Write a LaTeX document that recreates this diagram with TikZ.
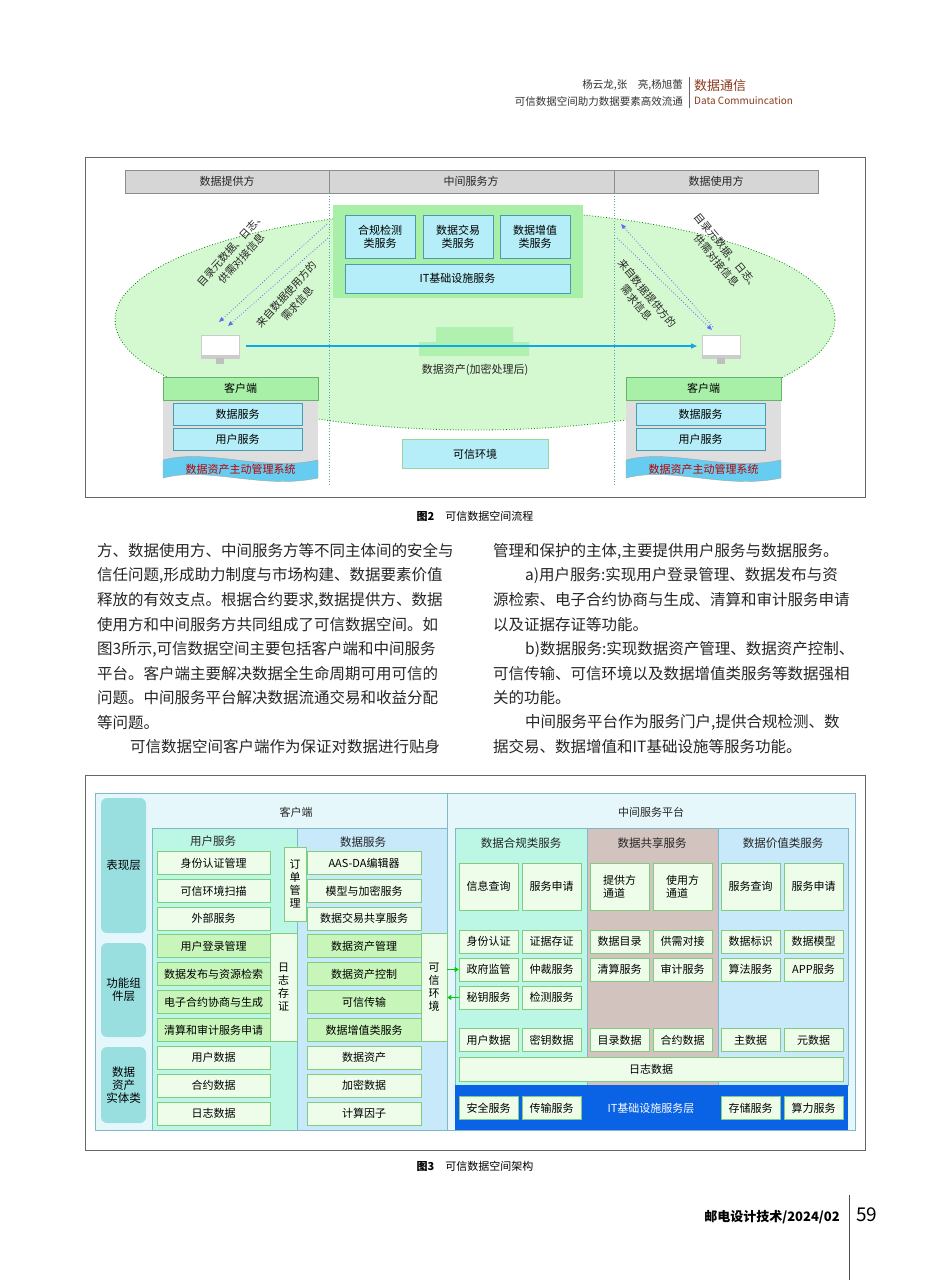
\documentclass[tikz,border=0pt]{standalone}
\usepackage{fontspec}
\setmainfont{Noto Sans CJK SC}
\usetikzlibrary{arrows.meta}
\definecolor{lg}{HTML}{D4F8CF}
\definecolor{mg}{HTML}{A8F0A8}
\definecolor{cy}{HTML}{B5EEF8}
\definecolor{cyb}{HTML}{4A9AB0}
\definecolor{tu}{HTML}{BBF7E4}
\definecolor{sk}{HTML}{C7E9FA}
\definecolor{br}{HTML}{D2C3BF}
\definecolor{pale}{HTML}{E6F7FC}
\definecolor{side}{HTML}{9ADFE0}
\definecolor{bx}{HTML}{EEFCEA}
\definecolor{bxg}{HTML}{C8F5B9}
\definecolor{blu}{HTML}{0A62E4}
\definecolor{brn}{HTML}{8A3A1C}
\definecolor{ban}{HTML}{66CCF0}
\begin{document}
\begin{tikzpicture}[x=1pt,y=-1pt,
  txt/.style={inner sep=0,font=\fontsize{11}{13}\selectfont,text=black!85},
  rtxt/.style={inner sep=0,align=center,font=\fontsize{10.5}{14}\selectfont,text=black!85},
  body/.style={anchor=west,inner sep=0,font=\fontsize{15.5}{17}\selectfont,text=black!85},
  cbox/.style={draw=cyb,fill=cy,line width=0.6pt,inner sep=0,align=center,font=\fontsize{11}{13}\selectfont},
  gbox/.style={draw=green!60!black!50,fill=bx,line width=0.6pt,inner sep=0,align=center,font=\fontsize{11}{13}\selectfont},
  dgbox/.style={gbox,fill=bxg},
  sidebox/.style={fill=side,rounded corners=6pt,inner sep=0,align=center,font=\fontsize{11.5}{13}\selectfont}]
\useasboundingbox (0,0) rectangle (950,1280);
\fill[white] (0,0) rectangle (950,1280);
% header
\node[anchor=east,inner sep=0,font=\fontsize{10.5}{12}\selectfont,text=black!80] (h1) at (683,85) {杨云龙,张\quad 亮,杨旭蕾};
\node[anchor=east,inner sep=0,font=\fontsize{10.5}{12}\selectfont,text=black!80] (h2) at (683,101) {可信数据空间助力数据要素高效流通};
\draw[black!60,line width=0.5pt] (689,77) -- (689,108);
\node[anchor=west,inner sep=0,font=\fontsize{13}{14}\selectfont,text=brn] (h3) at (694,86) {数据通信};
\node[anchor=west,inner sep=0,font=\fontsize{10}{12}\itshape\selectfont,text=brn] (h4) at (694,101) {Data Commuincation};
% ===== Figure 2 =====
\draw[black!60,line width=0.7pt] (85,157) rectangle (865,497);
\fill[lg,draw=green!50!black,dotted,line width=0.8pt] (475,320) ellipse [x radius=360,y radius=110];
\begin{scope}[fill=black!16,draw=black!45,line width=0.6pt]
\filldraw (125,170) rectangle (329,193); \filldraw (329,170) rectangle (614,193); \filldraw (614,170) rectangle (818,193);
\end{scope}
\node[txt] (p1) at (227,181.5) {数据提供方};
\node[txt] (p2) at (471,181.5) {中间服务方};
\node[txt] (p3) at (716,181.5) {数据使用方};
\draw[teal!70,dotted,line width=0.8pt] (329,193) -- (329,485) (614,193) -- (614,485);
\fill[mg] (333,205) rectangle (583,298);
\node[cbox,minimum width=70,minimum height=43] (s1) at (380,236.5) {合规检测\\类服务};
\node[cbox,minimum width=70,minimum height=43] (s2) at (458,236.5) {数据交易\\类服务};
\node[cbox,minimum width=70,minimum height=43] (s3) at (535,236.5) {数据增值\\类服务};
\node[cbox,minimum width=225,minimum height=29] (s4) at (457.5,278.5) {IT基础设施服务};
% pyramid
\fill[mg!80!lg] (436,327) rectangle (513,342) (419,342) rectangle (529,356);
% monitors
\foreach \n/\x in {monL/220,monR/721}{
  \draw[black!20,fill=white] (\x-19,335) rectangle (\x+19,358);
  \fill[black!20] (\x-19,355) rectangle (\x+19,358);
  \fill[black!25] (\x-4,358) rectangle (\x+4,364);
  \coordinate (\n) at (\x,346);
}
\draw[-{Triangle[length=6pt,width=5pt]},cyan!90!teal,line width=1.2pt] ([xshift=26]monL) -- ([xshift=-24]monR);
\node[txt] (asset) at (475,370) {数据资产(加密处理后)};
\coordinate (aL1) at (327,224); \coordinate (aL1e) at (219,322);
\coordinate (aL2) at (328,238); \coordinate (aL2e) at (228,326);
\coordinate (aR1) at (713,327); \coordinate (aR1e) at (621,224);
\coordinate (aR2) at (617,238); \coordinate (aR2e) at (712,330);
\draw[blue!60,dotted,line width=0.8pt,-{Triangle[length=5pt,width=4pt]}] (aL1) -- (aL1e);
\draw[blue!60,dotted,line width=0.8pt,-{Triangle[length=5pt,width=4pt]}] (aL2) -- (aL2e);
\draw[blue!60,dotted,line width=0.8pt,-{Triangle[length=5pt,width=4pt]}] (aR1) -- (aR1e);
\draw[blue!60,dotted,line width=0.8pt,-{Triangle[length=5pt,width=4pt]}] (aR2) -- (aR2e);
\node[rtxt,rotate=48] (lL1) at (236,254) {目录元数据、日志、\\供需对接信息};
\node[rtxt,rotate=48] (lL2) at (292,299) {来自数据使用方的\\需求信息};
\node[rtxt,rotate=-50] (lR1) at (722,256) {目录元数据、日志、\\供需对接信息};
\node[rtxt,rotate=-50] (lR2) at (642,298) {来自数据提供方的\\需求信息};
% clients
\foreach \x/\k in {163/L,626/R}{
  \fill[black!13] (\x,400) rectangle (\x+155,470);
  \node[draw=green!50!black!60,fill=mg,minimum width=155,minimum height=23,inner sep=0,font=\fontsize{11}{13}\selectfont] (cl\k) at (\x+77.5,388.5) {客户端};
  \node[cbox,minimum width=129,minimum height=22] (ds\k) at (\x+74.5,414) {数据服务};
  \node[cbox,minimum width=129,minimum height=22] (us\k) at (\x+74.5,439) {用户服务};
  \fill[ban,draw=black!35] (\x,460) .. controls (\x+45,448) and (\x+100,472) .. (\x+155,460) -- (\x+155,478) .. controls (\x+100,490) and (\x+45,466) .. (\x,478) -- cycle;
  \node[txt,text=red!75!black] (dm\k) at (\x+77.5,469) {数据资产主动管理系统};
}
\node[draw=green!60!black!40,fill=cy,minimum width=146,minimum height=29,inner sep=0,font=\fontsize{11}{13}\selectfont] (env) at (475,454) {可信环境};
\node[inner sep=0,font=\fontsize{11}{13}\selectfont] (cap2) at (475,516) {\textbf{图2}\quad 可信数据空间流程};
% ===== Body text =====
\node[body] (t1) at (97,551) {方、数据使用方、中间服务方等不同主体间的安全与};
\node[body] (t2) at (97,575.5) {信任问题,形成助力制度与市场构建、数据要素价值};
\node[body] (t3) at (97,600) {释放的有效支点。根据合约要求,数据提供方、数据};
\node[body] (t4) at (97,624.5) {使用方和中间服务方共同组成了可信数据空间。如};
\node[body] (t5) at (97,649) {图3所示,可信数据空间主要包括客户端和中间服务};
\node[body] (t6) at (97,673.5) {平台。客户端主要解决数据全生命周期可用可信的};
\node[body] (t7) at (97,698) {问题。中间服务平台解决数据流通交易和收益分配};
\node[body] (t8) at (97,722.5) {等问题。};
\node[body] (t9) at (130,747) {可信数据空间客户端作为保证对数据进行贴身};
\node[body] (r1) at (493,551) {管理和保护的主体,主要提供用户服务与数据服务。};
\node[body] (r2) at (525,575.5) {a)用户服务:实现用户登录管理、数据发布与资};
\node[body] (r3) at (493,600) {源检索、电子合约协商与生成、清算和审计服务申请};
\node[body] (r4) at (493,624.5) {以及证据存证等功能。};
\node[body] (r5) at (525,649) {b)数据服务:实现数据资产管理、数据资产控制、};
\node[body] (r6) at (493,673.5) {可信传输、可信环境以及数据增值类服务等数据强相};
\node[body] (r7) at (493,698) {关的功能。};
\node[body] (r8) at (525,722.5) {中间服务平台作为服务门户,提供合规检测、数};
\node[body] (r9) at (493,747) {据交易、数据增值和IT基础设施等服务功能。};
% ===== Figure 3 =====
\draw[black!60,line width=0.7pt] (85,775) rectangle (865,1150);
\fill[pale,draw=cyb!70,line width=0.6pt] (95,793) rectangle (447,1130);
\fill[pale,draw=cyb!70,line width=0.6pt] (447,793) rectangle (855,1130);
\node[sidebox,minimum width=45,minimum height=135] (L1) at (123.5,865.5) {表现层};
\node[sidebox,minimum width=45,minimum height=94] (L2) at (123.5,990) {功能组\\件层};
\node[sidebox,minimum width=45,minimum height=76] (L3) at (123.5,1085) {数据\\资产\\实体类};
\node[txt] (kh) at (296,812) {客户端};
\fill[tu,draw=cyb!70,line width=0.6pt] (152,828) rectangle (297,1130);
\fill[sk,draw=cyb!70,line width=0.6pt] (297,828) rectangle (447,1130);
\node[txt,font=\fontsize{11.5}{13}\selectfont] (uh) at (213,841) {用户服务};
\node[txt,font=\fontsize{11.5}{13}\selectfont] (dh) at (363,842) {数据服务};
% user column boxes
\node[gbox,minimum width=113,minimum height=23] (u1) at (213.5,863) {身份认证管理};
\node[gbox,minimum width=113,minimum height=23] (u2) at (213.5,891) {可信环境扫描};
\node[gbox,minimum width=113,minimum height=23] (u3) at (213.5,918.5) {外部服务};
\node[dgbox,minimum width=113,minimum height=23] (u4) at (213.5,946) {用户登录管理};
\node[dgbox,minimum width=113,minimum height=23] (u5) at (213.5,974) {数据发布与资源检索};
\node[dgbox,minimum width=113,minimum height=23] (u6) at (213.5,1002) {电子合约协商与生成};
\node[dgbox,minimum width=113,minimum height=23] (u7) at (213.5,1030) {清算和审计服务申请};
\node[gbox,minimum width=113,minimum height=23] (u8) at (213.5,1057.5) {用户数据};
\node[gbox,minimum width=113,minimum height=23] (u9) at (213.5,1085.5) {合约数据};
\node[gbox,minimum width=113,minimum height=23] (u10) at (213.5,1113.5) {日志数据};
\node[gbox,minimum width=22,minimum height=74] (dd) at (295,884) {订\\单\\管\\理};
\node[gbox,minimum width=27,minimum height=108] (rz) at (283.5,987) {日\\志\\存\\证};
% data column
\node[gbox,minimum width=114,minimum height=23] (d1) at (364,863) {AAS-DA编辑器};
\node[gbox,minimum width=114,minimum height=23] (d2) at (364,891) {模型与加密服务};
\node[gbox,minimum width=114,minimum height=23] (d3) at (364,918.5) {数据交易共享服务};
\node[dgbox,minimum width=114,minimum height=23] (d4) at (364,946) {数据资产管理};
\node[dgbox,minimum width=114,minimum height=23] (d5) at (364,974) {数据资产控制};
\node[dgbox,minimum width=114,minimum height=23] (d6) at (364,1002) {可信传输};
\node[dgbox,minimum width=114,minimum height=23] (d7) at (364,1030) {数据增值类服务};
\node[gbox,minimum width=114,minimum height=23] (d8) at (364,1057.5) {数据资产};
\node[gbox,minimum width=114,minimum height=23] (d9) at (364,1085.5) {加密数据};
\node[gbox,minimum width=114,minimum height=23] (d10) at (364,1113.5) {计算因子};
\node[gbox,minimum width=26,minimum height=108] (kx) at (434,987) {可\\信\\环\\境};
% middle platform
\node[txt] (zh) at (651,812) {中间服务平台};
\fill[tu,draw=cyb!70,line width=0.6pt] (455,828) rectangle (587,1085);
\fill[br,draw=cyb!70,line width=0.6pt] (587,828) rectangle (718,1085);
\fill[sk,draw=cyb!70,line width=0.6pt] (718,828) rectangle (848,1085);
\fill[blu] (455,1085) rectangle (848,1130);
\node[txt,font=\fontsize{11.5}{13}\selectfont] (c1) at (521,843) {数据合规类服务};
\node[txt,font=\fontsize{11.5}{13}\selectfont] (c2) at (652,843) {数据共享服务};
\node[txt,font=\fontsize{11.5}{13}\selectfont] (c3) at (783,843) {数据价值类服务};
\tikzset{mb/.style={gbox,minimum width=59,minimum height=23}, tb/.style={gbox,minimum width=59,minimum height=47}}
\node[tb] (m11) at (488.5,886.5) {信息查询};
\node[tb] (m12) at (551.5,886.5) {服务申请};
\node[tb,align=left] (m13) at (619.5,886.5) {提供方\\通道};
\node[tb,align=left] (m14) at (682.5,886.5) {使用方\\通道};
\node[tb] (m15) at (750.5,886.5) {服务查询};
\node[tb] (m16) at (813.5,886.5) {服务申请};
\node[mb] (m21) at (488.5,941.5) {身份认证};
\node[mb] (m22) at (551.5,941.5) {证据存证};
\node[mb] (m23) at (619.5,941.5) {数据目录};
\node[mb] (m24) at (682.5,941.5) {供需对接};
\node[mb] (m25) at (750.5,941.5) {数据标识};
\node[mb] (m26) at (813.5,941.5) {数据模型};
\node[mb] (m31) at (488.5,969.5) {政府监管};
\node[mb] (m32) at (551.5,969.5) {仲裁服务};
\node[mb] (m33) at (619.5,969.5) {清算服务};
\node[mb] (m34) at (682.5,969.5) {审计服务};
\node[mb] (m35) at (750.5,969.5) {算法服务};
\node[mb] (m36) at (813.5,969.5) {APP服务};
\node[mb] (m41) at (488.5,997.5) {秘钥服务};
\node[mb] (m42) at (551.5,997.5) {检测服务};
\node[mb] (m51) at (488.5,1040) {用户数据};
\node[mb] (m52) at (551.5,1040) {密钥数据};
\node[mb] (m53) at (619.5,1040) {目录数据};
\node[mb] (m54) at (682.5,1040) {合约数据};
\node[mb] (m55) at (750.5,1040) {主数据};
\node[mb] (m56) at (813.5,1040) {元数据};
\node[gbox,minimum width=384,minimum height=24] (log) at (651,1069) {日志数据};
\node[mb] (b1) at (488.5,1108) {安全服务};
\node[mb] (b2) at (551.5,1108) {传输服务};
\node[mb] (b3) at (750.5,1108) {存储服务};
\node[mb] (b4) at (813.5,1108) {算力服务};
\node[txt,text=white] (itl) at (651,1108) {IT基础设施服务层};
\draw[-{Triangle[length=4pt,width=5pt]},green!80!black,line width=1.5pt] (kx.east|-m31) -- (m31.west);
\draw[-{Triangle[length=4pt,width=5pt]},green!80!black,line width=1.5pt] (m41.west) -- (kx.east|-m41);
\node[inner sep=0,font=\fontsize{11}{13}\selectfont] (cap3) at (475,1166) {\textbf{图3}\quad 可信数据空间架构};
% footer
\node[anchor=east,inner sep=0,font=\fontsize{13}{14}\bfseries\selectfont] (ft) at (840,1217) {邮电设计技术/2024/02};
\draw[black!70,line width=0.6pt] (849,1195) -- (849,1280);
\node[anchor=west,inner sep=0,font=\fontsize{19}{20}\selectfont] (pg) at (856,1215) {59};
\end{tikzpicture}
\end{document}
